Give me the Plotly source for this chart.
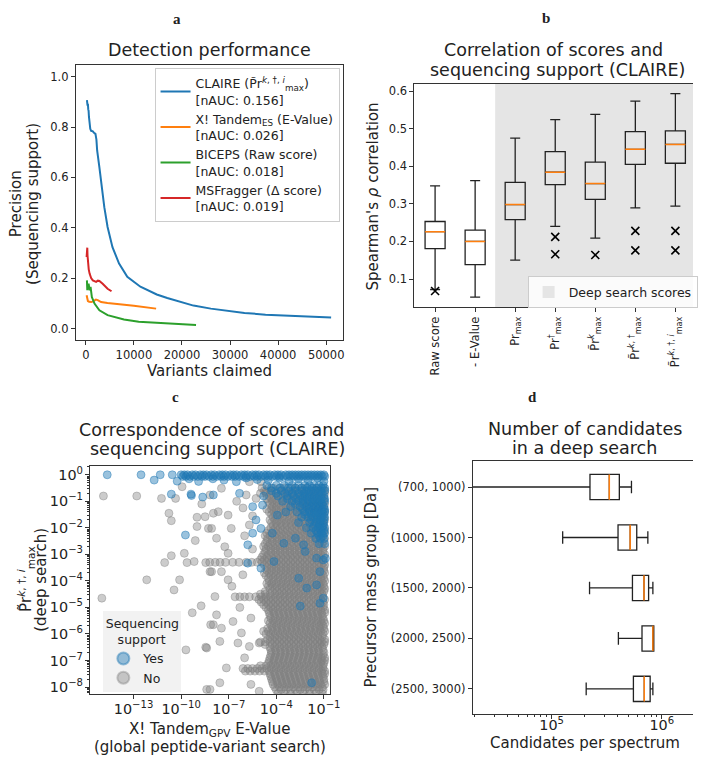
import plotly.graph_objects as go

W, H = 704, 758
FONT = "DejaVu Sans"
INK = "#222222"
SPINE = "#333333"
BLUE, ORANGE, GREEN, RED = "#1f77b4", "#ff7f0e", "#2ca02c", "#d62728"

# ---------------- panel a : detection performance ----------------
claire_x = [225, 300, 360, 430, 500, 570, 650, 700, 780, 850, 920, 1100, 1450, 1700, 2000, 2200, 2350,
            2820, 3300, 3840, 4520, 5540, 6910, 8620, 11350, 14750, 16930, 20200, 22390, 26000, 29200,
            33000, 37380, 44200, 51020]
claire_y = [0.907, 0.900, 0.885, 0.892, 0.870, 0.865, 0.840, 0.820, 0.826, 0.800, 0.793, 0.785, 0.783,
            0.777, 0.773, 0.750, 0.707, 0.640, 0.561, 0.482, 0.403, 0.323, 0.258, 0.205, 0.166, 0.135,
            0.121, 0.102, 0.091, 0.079, 0.070, 0.062, 0.055, 0.049, 0.0437]
xtandem_x = [160, 300, 430, 700, 1120, 1500, 1800, 2100, 2480, 3170, 4500, 5890, 8000, 9980, 12500, 14620]
xtandem_y = [0.132, 0.115, 0.109, 0.106, 0.105, 0.108, 0.112, 0.115, 0.113, 0.105, 0.101, 0.099, 0.094,
             0.090, 0.084, 0.079]
biceps_x = [225, 300, 400, 570, 700, 780, 980, 1100, 1250, 1800, 2820, 4520, 7930, 11000, 14750, 20200, 22920]
biceps_y = [0.191, 0.152, 0.170, 0.178, 0.160, 0.152, 0.165, 0.140, 0.125, 0.099, 0.0725, 0.053, 0.0355,
            0.027, 0.022, 0.017, 0.0143]
msfragger_x = [160, 250, 300, 350, 430, 600, 780, 1100, 1450, 2140, 2500, 2820, 3500, 4520, 5340]
msfragger_y = [0.284, 0.320, 0.321, 0.290, 0.258, 0.235, 0.218, 0.200, 0.191, 0.185, 0.190, 0.189, 0.178,
               0.158, 0.148]
a_names = [
    "CLAIRE (P\u0303r<sup><i>k</i>, \u2020, <i>i</i></sup><sub>max</sub>)<br>[nAUC: 0.156]",
    "X! Tandem<sub>ES</sub> (E-Value)<br>[nAUC: 0.026]",
    "BICEPS (Raw score)<br>[nAUC: 0.018]",
    "MSFragger (\u0394 score)<br>[nAUC: 0.019]",
]

# ---------------- panel b : correlation boxes ----------------
b_labels = ["Raw score", "- E-Value", "Pr<sub>max</sub>", "Pr<sup>\u2020</sup><sub>max</sub>",
            "P\u0303r<sup><i>k</i></sup><sub>max</sub>",
            "P\u0303r<sup><i>k</i>, \u2020</sup><sub>max</sub>",
            "P\u0303r<sup><i>k</i>, \u2020, <i>i</i></sup><sub>max</sub>"]
b_q1 = [0.181, 0.138, 0.258, 0.351, 0.312, 0.405, 0.408]
b_med = [0.226, 0.200, 0.298, 0.384, 0.354, 0.445, 0.458]
b_q3 = [0.253, 0.230, 0.357, 0.439, 0.411, 0.492, 0.494]
b_lo = [0.072, 0.052, 0.150, 0.240, 0.209, 0.289, 0.294]
b_hi = [0.348, 0.362, 0.475, 0.524, 0.538, 0.573, 0.593]
b_flier_cat = [0, 3, 3, 4, 5, 5, 6, 6]
b_flier_val = [0.068, 0.212, 0.166, 0.164, 0.228, 0.176, 0.228, 0.176]
deep_start = 1.5

# ---------------- panel c : scatter (log10 of E-value, log10 of score) ----------------
yes_top_x = [-14.66, -12.53, -11.32, -10.56, -10.0, -9.8, -9.6, -9.3, -9.1, -8.8, -8.6, -8.4, -8.1, -7.9,
             -7.6, -7.4, -7.2, -6.9, -6.7, -6.5, -6.2, -6.0, -5.8, -5.5, -5.3, -5.1, -4.8, -4.6, -4.4,
             -4.1, -3.9, -3.7, -3.4, -3.2, -3.0, -2.8, -2.6, -2.4, -2.2, -2.0, -1.8, -1.6, -1.4, -1.2, -1.0]
yes_pts = [(-11.70, -0.2), (-10.25, -0.24), (-9.5, -0.15), (-8.9, -0.25), (-8.0, -0.15), (-7.3, -0.2),
           (-6.52, -0.26), (-5.9, -0.12), (-5.2, -0.18), (-4.5, -0.2), (-3.8, -0.12), (-3.2, -0.25),
           (-2.6, -0.15), (-2.0, -0.2), (-1.4, -0.12), (-1.0, -0.25),
           (-10.62, -0.73), (-9.38, -0.73), (-9.35, -0.78), (-8.64, -0.84), (-9.73, -2.27), (-7.97, -0.76),
           (-6.32, -0.70), (-5.49, -1.20), (-4.87, -1.14), (-5.28, -1.70), (-5.49, -2.20), (-5.80, -2.64),
           (-4.97, -2.02), (-4.25, -2.20), (-3.94, -1.52), (-3.53, -2.58), (-2.80, -2.39), (-5.80, -3.33),
           (-4.97, -3.52), (-4.15, -3.27), (-2.18, -2.89), (-2.28, -2.64), (-2.59, -3.90), (-2.08, -4.27),
           (-1.46, -4.15), (-1.25, -3.65), (-1.46, -3.14), (-1.04, -3.21), (-2.49, -4.95), (-1.25, -4.84),
           (-1.04, -4.65), (-1.77, -7.84), (-0.9, -3.15)]
yes_rows = [
    (-0.06, [-9.9, -9.7, -9.45, -9.2, -8.95, -8.7, -8.5, -8.25, -8.0, -7.75, -7.5, -7.3, -7.05, -6.8, -6.6,
             -6.35, -6.1, -5.9, -5.65, -5.4, -5.2, -4.95, -4.7, -4.5, -4.25, -4.0, -3.8, -3.55, -3.3, -3.1,
             -2.9, -2.7, -2.5, -2.3, -2.1, -1.9, -1.7, -1.5, -1.3, -1.1, -0.95]),
    (-0.4, [-4.6, -4.0, -3.5, -3.0, -2.6, -2.2, -1.9, -1.6, -1.3, -1.05]),
    (-0.5, [-4.3, -3.75, -3.25, -2.8, -2.4, -2.05, -1.75, -1.45, -1.15, -0.95]),
    (-0.6, [-4.3, -3.7, -3.2, -2.8, -2.4, -2.1, -1.8, -1.5, -1.2, -0.95]),
    (-0.7, [-4.0, -3.45, -3.0, -2.6, -2.25, -1.95, -1.65, -1.35, -1.1]),
    (-0.8, [-4.8, -3.9, -3.3, -2.9, -2.5, -2.2, -1.9, -1.6, -1.3, -1.0]),
    (-0.9, [-3.3, -2.75, -2.35, -2.05, -1.75, -1.45, -1.15, -0.95]),
    (-1.0, [-3.6, -3.0, -2.6, -2.3, -2.0, -1.7, -1.45, -1.2, -0.95]),
    (-1.1, [-2.8, -2.3, -1.95, -1.65, -1.35, -1.1]),
    (-1.2, [-3.1, -2.5, -2.1, -1.8, -1.5, -1.25, -1.0]),
    (-1.3, [-2.35, -1.95, -1.65, -1.35, -1.1, -0.95]),
    (-1.4, [-3.4, -2.7, -2.2, -1.9, -1.6, -1.35, -1.1, -0.95]),
    (-1.5, [-2.2, -1.8, -1.5, -1.25, -1.0]),
    (-1.6, [-2.4, -2.0, -1.7, -1.4, -1.15, -0.95]),
    (-1.7, [-1.8, -1.45, -1.2, -1.0]),
    (-1.8, [-2.6, -1.9, -1.5, -1.25, -1.0]),
    (-1.9, [-1.6, -1.3, -1.05]),
    (-2.0, [-2.1, -1.7, -1.35, -1.1, -0.95]),
    (-2.1, [-1.5, -1.2, -1.0]),
    (-2.2, [-1.8, -1.4, -1.15, -0.95]),
    (-2.3, [-1.3, -1.05]),
    (-2.4, [-1.5, -1.2, -1.0]),
    (-2.6, [-1.3, -0.95]),
]
no_pts = [(-14.9, -0.80), (-12.8, -0.80), (-11.24, -0.89), (-10.35, -0.89), (-9.94, -0.45), (-10.77, -1.45),
          (-10.62, -1.73), (-9.11, -2.48), (-8.49, -1.58), (-8.70, -1.10), (-8.28, -2.02), (-10.62, -3.05),
          (-9.80, -2.96), (-11.04, -3.31), (-9.63, -3.31), (-9.18, -3.27), (-8.45, -3.31), (-8.18, -3.65),
          (-12.17, -3.96), (-10.1, -3.96), (-10.45, -4.34), (-15.0, -4.65), (-8.74, -4.94), (-8.14, -5.65),
          (-8.45, -6.50), (-8.39, -8.09), (-8.18, -0.76), (-7.46, -0.51), (-7.97, -1.45), (-7.66, -1.39),
          (-7.04, -1.52), (-6.84, -2.02), (-7.77, -2.39), (-8.08, -2.02), (-7.25, -2.71), (-7.04, -2.96),
          (-8.08, -3.65), (-7.46, -3.65), (-7.04, -3.96), (-6.11, -3.77), (-7.87, -4.59), (-7.77, -5.28),
          (-6.73, -5.53), (-7.97, -5.65), (-7.46, -5.78), (-6.2, -5.96), (-7.56, -6.28), (-6.42, -6.34),
          (-5.70, -6.47), (-5.08, -6.34), (-8.39, -6.53), (-7.15, -7.28), (-7.56, -7.84), (-8.18, -8.09),
          (-5.08, -8.16), (-5.7, -1.89), (-5.9, -0.76), (-5.28, -0.89), (-4.97, -0.26), (-4.66, -0.64),
          (-5.70, -0.26), (-9.0, -1.6), (-9.0, -1.95), (-6.5, -1.0), (-6.1, -1.25), (-5.5, -1.55),
          (-6.0, -2.3), (-5.5, -2.8), (-6.8, -4.2), (-6.3, -5.0), (-5.6, -5.4), (-6.0, -6.9), (-5.6, -7.9),
          (-9.3, -5.2), (-9.7, -6.6)]
no_rows = [
    (-0.5, [-4.9, -4.5, -4.2, -3.8, -3.5, -3.1, -2.8, -2.4, -2.1, -1.7, -1.4, -1.05]),
    (-0.6, [-4.75, -4.35, -4.05, -3.65, -3.35, -2.95, -2.65, -2.25, -1.95, -1.55, -1.25, -0.95]),
    (-0.7, [-5.0, -4.65, -4.35, -4.0, -3.65, -3.3, -2.95, -2.6, -2.25, -1.9, -1.55, -1.2, -0.95]),
    (-0.8, [-4.45, -4.15, -3.85, -3.55, -3.25, -2.95, -2.65, -2.35, -2.05, -1.75, -1.45, -1.15]),
    (-0.9, [-4.6, -4.3, -4.0, -3.7, -3.4, -3.1, -2.8, -2.5, -2.2, -1.9, -1.6, -1.3, -1.0]),
    (-1.0, [-4.5, -4.25, -3.95, -3.65, -3.35, -3.05, -2.75, -2.45, -2.15, -1.85, -1.55, -1.25, -1.0]),
    (-1.1, [-4.4, -4.15, -3.85, -3.55, -3.25, -2.95, -2.65, -2.35, -2.05, -1.75, -1.45, -1.15, -0.95]),
    (-1.2, [-4.25, -4.0, -3.7, -3.4, -3.1, -2.8, -2.5, -2.2, -1.9, -1.6, -1.3, -1.05]),
    (-1.3, [-4.6, -4.3, -4.0, -3.7, -3.4, -3.1, -2.8, -2.5, -2.2, -1.9, -1.6, -1.3, -1.0]),
    (-1.4, [-4.45, -4.15, -3.85, -3.55, -3.25, -2.95, -2.65, -2.35, -2.05, -1.75, -1.45, -1.15, -0.95]),
    (-1.5, [-4.3, -4.05, -3.75, -3.45, -3.15, -2.85, -2.55, -2.25, -1.95, -1.65, -1.35, -1.1]),
    (-1.6, [-4.2, -3.9, -3.6, -3.3, -3.0, -2.7, -2.4, -2.1, -1.8, -1.5, -1.2, -1.0]),
    (-1.7, [-4.4, -4.1, -3.8, -3.5, -3.2, -2.9, -2.6, -2.3, -2.0, -1.7, -1.4, -1.15, -0.95]),
    (-1.8, [-4.3, -4.0, -3.7, -3.4, -3.1, -2.8, -2.5, -2.2, -1.9, -1.6, -1.3, -1.05]),
    (-1.9, [-4.2, -3.95, -3.65, -3.35, -3.05, -2.75, -2.45, -2.15, -1.85, -1.55, -1.25, -1.0]),
    (-2.0, [-4.35, -4.05, -3.75, -3.45, -3.15, -2.85, -2.55, -2.25, -1.95, -1.65, -1.35, -1.1]),
    (-2.1, [-4.5, -4.2, -3.9, -3.6, -3.3, -3.0, -2.7, -2.4, -2.1, -1.8, -1.5, -1.2, -0.95]),
    (-2.2, [-4.6, -4.3, -4.0, -3.7, -3.4, -3.1, -2.8, -2.5, -2.2, -1.9, -1.6, -1.3, -1.0]),
    (-2.3, [-4.7, -4.4, -4.1, -3.8, -3.5, -3.2, -2.9, -2.6, -2.3, -2.0, -1.7, -1.4, -1.1]),
    (-2.4, [-4.55, -4.25, -3.95, -3.65, -3.35, -3.05, -2.75, -2.45, -2.15, -1.85, -1.55, -1.25, -0.95]),
    (-2.5, [-4.6, -4.25, -3.95, -3.65, -3.35, -3.05, -2.75, -2.45, -2.15, -1.85, -1.55, -1.25, -1.0]),
    (-2.6, [-4.7, -4.4, -4.1, -3.8, -3.5, -3.2, -2.9, -2.6, -2.3, -2.0, -1.7, -1.4, -1.1]),
    (-2.7, [-4.8, -4.5, -4.2, -3.9, -3.6, -3.3, -3.0, -2.7, -2.4, -2.1, -1.8, -1.5, -1.2, -0.95]),
    (-2.8, [-4.65, -4.35, -4.05, -3.75, -3.45, -3.15, -2.85, -2.55, -2.25, -1.95, -1.65, -1.35, -1.05]),
    (-2.9, [-4.7, -4.35, -4.05, -3.75, -3.45, -3.15, -2.85, -2.55, -2.25, -1.95, -1.65, -1.35, -1.05]),
    (-3.0, [-4.8, -4.5, -4.2, -3.9, -3.6, -3.3, -3.0, -2.7, -2.4, -2.1, -1.8, -1.5, -1.2, -0.95]),
    (-3.1, [-4.9, -4.6, -4.3, -4.0, -3.7, -3.4, -3.1, -2.8, -2.5, -2.2, -1.9, -1.6, -1.3, -1.0]),
    (-3.2, [-5.0, -4.75, -4.45, -4.15, -3.85, -3.55, -3.25, -2.95, -2.65, -2.35, -2.05, -1.75, -1.45, -1.15]),
    (-3.3, [-8.2, -7.85, -7.55, -7.2, -6.75, -6.35, -5.9, -5.55, -5.2, -4.9, -4.6, -4.3, -4.0, -3.7, -3.4,
            -3.1, -2.8, -2.5, -2.2, -1.9, -1.6, -1.3, -1.0]),
    (-3.4, [-4.75, -4.45, -4.15, -3.85, -3.55, -3.25, -2.95, -2.65, -2.35, -2.05, -1.75, -1.45, -1.15, -0.95]),
    (-3.5, [-4.6, -4.3, -4.0, -3.7, -3.4, -3.1, -2.8, -2.5, -2.2, -1.9, -1.6, -1.3, -1.0]),
    (-3.6, [-4.6, -4.3, -4.0, -3.7, -3.4, -3.1, -2.8, -2.5, -2.2, -1.9, -1.6, -1.3, -1.0]),
    (-3.7, [-4.75, -4.45, -4.15, -3.85, -3.55, -3.25, -2.95, -2.65, -2.35, -2.05, -1.75, -1.45, -1.15, -0.95]),
    (-3.8, [-4.65, -4.35, -4.05, -3.75, -3.45, -3.15, -2.85, -2.55, -2.25, -1.95, -1.65, -1.35, -1.05]),
    (-3.9, [-4.5, -4.2, -3.9, -3.6, -3.3, -3.0, -2.7, -2.4, -2.1, -1.8, -1.5, -1.2, -1.0]),
    (-4.0, [-4.45, -4.15, -3.85, -3.55, -3.25, -2.95, -2.65, -2.35, -2.05, -1.75, -1.45, -1.15, -0.95]),
    (-4.1, [-4.6, -4.3, -4.0, -3.7, -3.4, -3.1, -2.8, -2.5, -2.2, -1.9, -1.6, -1.3, -1.05]),
    (-4.2, [-4.5, -4.25, -3.95, -3.65, -3.35, -3.05, -2.75, -2.45, -2.15, -1.85, -1.55, -1.25, -1.0]),
    (-4.3, [-4.4, -4.1, -3.8, -3.5, -3.2, -2.9, -2.6, -2.3, -2.0, -1.7, -1.4, -1.15, -0.95]),
    (-4.4, [-4.7, -4.25, -3.95, -3.65, -3.35, -3.05, -2.75, -2.45, -2.15, -1.85, -1.55, -1.25, -1.0]),
    (-4.5, [-5.0, -4.7, -4.4, -4.1, -3.8, -3.5, -3.2, -2.9, -2.6, -2.3, -2.0, -1.7, -1.4, -1.1]),
    (-4.6, [-6.6, -6.3, -6.0, -5.7, -5.3, -4.95, -4.65, -4.35, -4.05, -3.75, -3.45, -3.15, -2.85, -2.55,
            -2.25, -1.95, -1.65, -1.35, -1.05]),
    (-4.7, [-5.1, -4.8, -4.5, -4.2, -3.9, -3.6, -3.3, -3.0, -2.7, -2.4, -2.1, -1.8, -1.5, -1.2, -0.95]),
    (-4.8, [-4.95, -4.65, -4.35, -4.05, -3.75, -3.45, -3.15, -2.85, -2.55, -2.25, -1.95, -1.65, -1.35, -1.05]),
    (-4.9, [-4.8, -4.5, -4.2, -3.9, -3.6, -3.3, -3.0, -2.7, -2.4, -2.1, -1.8, -1.5, -1.2, -1.0]),
    (-5.0, [-4.65, -4.35, -4.05, -3.75, -3.45, -3.15, -2.85, -2.55, -2.25, -1.95, -1.65, -1.35, -1.05]),
    (-5.1, [-4.5, -4.2, -3.9, -3.6, -3.3, -3.0, -2.7, -2.4, -2.1, -1.8, -1.5, -1.2, -0.95]),
    (-5.2, [-4.45, -4.15, -3.85, -3.55, -3.25, -2.95, -2.65, -2.35, -2.05, -1.75, -1.45, -1.15, -0.95]),
    (-5.3, [-4.4, -4.1, -3.8, -3.5, -3.2, -2.9, -2.6, -2.3, -2.0, -1.7, -1.4, -1.1]),
    (-5.4, [-4.35, -4.05, -3.75, -3.45, -3.15, -2.85, -2.55, -2.25, -1.95, -1.65, -1.35, -1.05]),
    (-5.5, [-4.5, -4.2, -3.9, -3.6, -3.3, -3.0, -2.7, -2.4, -2.1, -1.8, -1.5, -1.2, -1.0]),
    (-5.6, [-4.4, -4.15, -3.85, -3.55, -3.25, -2.95, -2.65, -2.35, -2.05, -1.75, -1.45, -1.15, -0.95]),
    (-5.7, [-4.3, -4.0, -3.7, -3.4, -3.1, -2.8, -2.5, -2.2, -1.9, -1.6, -1.3, -1.05]),
    (-5.8, [-4.55, -4.25, -3.95, -3.65, -3.35, -3.05, -2.75, -2.45, -2.15, -1.85, -1.55, -1.25, -1.0]),
    (-5.9, [-4.8, -4.5, -4.2, -3.9, -3.6, -3.3, -3.0, -2.7, -2.4, -2.1, -1.8, -1.5, -1.2, -0.95]),
    (-6.0, [-4.65, -4.35, -4.05, -3.75, -3.45, -3.15, -2.85, -2.55, -2.25, -1.95, -1.65, -1.35, -1.05]),
    (-6.1, [-4.4, -4.1, -3.8, -3.5, -3.2, -2.9, -2.6, -2.3, -2.0, -1.7, -1.4, -1.1]),
    (-6.2, [-4.55, -4.25, -3.95, -3.65, -3.35, -3.05, -2.75, -2.45, -2.15, -1.85, -1.55, -1.25, -0.95]),
    (-6.3, [-5.0, -4.7, -4.4, -4.1, -3.8, -3.5, -3.2, -2.9, -2.6, -2.3, -2.0, -1.7, -1.4, -1.15, -0.95]),
    (-6.4, [-4.7, -4.25, -3.95, -3.65, -3.35, -3.05, -2.75, -2.45, -2.15, -1.85, -1.55, -1.25, -1.0]),
    (-6.5, [-4.4, -4.1, -3.8, -3.5, -3.2, -2.9, -2.6, -2.3, -2.0, -1.7, -1.4, -1.1]),
    (-6.6, [-4.35, -4.05, -3.75, -3.45, -3.15, -2.85, -2.55, -2.25, -1.95, -1.65, -1.35, -1.05]),
    (-6.7, [-4.3, -4.0, -3.7, -3.4, -3.1, -2.8, -2.5, -2.2, -1.9, -1.6, -1.3, -1.0]),
    (-6.8, [-4.35, -4.05, -3.75, -3.45, -3.15, -2.85, -2.55, -2.25, -1.95, -1.65, -1.35, -1.05]),
    (-6.9, [-4.4, -4.1, -3.8, -3.5, -3.2, -2.9, -2.6, -2.3, -2.0, -1.7, -1.4, -1.15, -0.95]),
    (-7.0, [-4.45, -4.15, -3.85, -3.55, -3.25, -2.95, -2.65, -2.35, -2.05, -1.75, -1.45, -1.15, -0.95]),
    (-7.1, [-4.5, -4.2, -3.9, -3.6, -3.3, -3.0, -2.7, -2.4, -2.1, -1.8, -1.5, -1.2, -1.0]),
    (-7.2, [-5.0, -4.65, -4.35, -4.05, -3.75, -3.45, -3.15, -2.85, -2.55, -2.25, -1.95, -1.65, -1.35, -1.05]),
    (-7.3, [-6.1, -5.8, -5.5, -5.2, -4.9, -4.6, -4.3, -4.0, -3.7, -3.4, -3.1, -2.8, -2.5, -2.2, -1.9, -1.6,
            -1.3, -1.05]),
    (-7.4, [-5.95, -5.65, -5.35, -5.05, -4.75, -4.45, -4.15, -3.85, -3.55, -3.25, -2.95, -2.65, -2.35, -2.05,
            -1.75, -1.45, -1.15, -0.95]),
    (-7.5, [-4.4, -4.1, -3.8, -3.5, -3.2, -2.9, -2.6, -2.3, -2.0, -1.7, -1.4, -1.1, -0.95]),
    (-7.6, [-4.35, -4.05, -3.75, -3.45, -3.15, -2.85, -2.55, -2.25, -1.95, -1.65, -1.35, -1.05]),
    (-7.7, [-4.3, -4.0, -3.7, -3.4, -3.1, -2.8, -2.5, -2.2, -1.9, -1.6, -1.3, -1.0]),
    (-7.8, [-4.25, -3.95, -3.65, -3.35, -3.05, -2.75, -2.45, -2.15, -1.85, -1.55, -1.25, -1.0]),
    (-7.9, [-4.2, -3.9, -3.6, -3.3, -3.0, -2.7, -2.4, -2.1, -1.8, -1.5, -1.2, -0.95]),
    (-8.0, [-4.1, -3.8, -3.5, -3.2, -2.9, -2.6, -2.3, -2.0, -1.7, -1.4, -1.1]),
    (-8.1, [-4.0, -3.7, -3.4, -3.1, -2.8, -2.5, -2.2, -1.9, -1.6, -1.3, -1.05]),
    (-8.25, [-3.9, -3.5, -3.1, -2.7, -2.3, -1.9, -1.5, -1.1]),
]

# ---------------- panel d : candidates per spectrum ----------------
d_labels = ["(700, 1000)", "(1000, 1500)", "(1500, 2000)", "(2000, 2500)", "(2500, 3000)"]
d_lo = [1.0e4, 1.26e5, 2.21e5, 4.04e5, 2.06e5]
d_q1 = [2.23e5, 4.01e5, 5.42e5, 6.62e5, 5.53e5]
d_med = [3.34e5, 5.17e5, 6.90e5, 8.31e5, 6.94e5]
d_q3 = [4.12e5, 5.93e5, 7.60e5, 8.47e5, 7.85e5]
d_hi = [5.31e5, 7.48e5, 8.31e5, 8.47e5, 8.31e5]


def dx(p0, p1):
    return [p0 / W, p1 / W]


def dy(top, bot):
    return [1 - bot / H, 1 - top / H]


fig = go.Figure()

# ---- a
for xs, ys, col, nm in [(claire_x, claire_y, BLUE, a_names[0]), (xtandem_x, xtandem_y, ORANGE, a_names[1]),
                        (biceps_x, biceps_y, GREEN, a_names[2]), (msfragger_x, msfragger_y, RED, a_names[3])]:
    fig.add_trace(go.Scatter(x=xs, y=ys, mode="lines", line=dict(color=col, width=2), name=nm,
                             xaxis="x", yaxis="y", legend="legend"))

# ---- b
pos_b = list(range(len(b_labels)))
fig.add_trace(go.Box(x=pos_b, q1=b_q1, median=b_med, q3=b_q3, lowerfence=b_lo, upperfence=b_hi,
                     width=0.5, whiskerwidth=0.5, boxpoints=False, fillcolor="rgba(0,0,0,0)",
                     line=dict(color=INK, width=1.3), showlegend=False, xaxis="x2", yaxis="y2",
                     hoverinfo="skip"))
mx, my = [], []
for i, m in zip(pos_b, b_med):
    mx += [i - 0.25, i + 0.25, None]
    my += [m, m, None]
fig.add_trace(go.Scatter(x=mx, y=my, mode="lines", line=dict(color=ORANGE, width=1.5), showlegend=False,
                         xaxis="x2", yaxis="y2"))
fig.add_trace(go.Scatter(x=b_flier_cat, y=b_flier_val, mode="markers",
                         marker=dict(symbol="x-thin", size=8, line=dict(color="black", width=1.6)),
                         showlegend=False, xaxis="x2", yaxis="y2"))

# ---- c
no_x = [10 ** p[0] for p in no_pts]
no_y = [10 ** p[1] for p in no_pts]
for ey, xs in no_rows:
    no_x += [10 ** v for v in xs]
    no_y += [10 ** ey] * len(xs)
yes_x = [10 ** v for v in yes_top_x]
yes_y = [1.0] * len(yes_top_x)
yes_x += [10 ** p[0] for p in yes_pts]
yes_y += [10 ** p[1] for p in yes_pts]
for ey, xs in yes_rows:
    yes_x += [10 ** v for v in xs]
    yes_y += [10 ** ey] * len(xs)

GREY_A = "rgba(128,128,128,0.40)"
BLUE_A = "rgba(31,119,180,0.45)"
fig.add_trace(go.Scatter(x=no_x, y=no_y, mode="markers", name="No", legendrank=2,
                         marker=dict(size=8, color=GREY_A, line=dict(color=GREY_A, width=1)),
                         xaxis="x3", yaxis="y3", legend="legend2"))
fig.add_trace(go.Scatter(x=yes_x, y=yes_y, mode="markers", name="Yes", legendrank=1,
                         marker=dict(size=8, color=BLUE_A, line=dict(color=BLUE_A, width=1)),
                         xaxis="x3", yaxis="y3", legend="legend2"))

# ---- d
pos_d = list(range(len(d_labels)))
fig.add_trace(go.Box(y=pos_d, q1=d_q1, median=d_med, q3=d_q3, lowerfence=d_lo, upperfence=d_hi,
                     orientation="h", width=0.5, whiskerwidth=0.5, boxpoints=False,
                     fillcolor="rgba(0,0,0,0)", line=dict(color=INK, width=1.3), showlegend=False,
                     xaxis="x4", yaxis="y4", hoverinfo="skip"))
dmx, dmy = [], []
for i, m in zip(pos_d, d_med):
    dmx += [m, m, None]
    dmy += [i - 0.25, i + 0.25, None]
fig.add_trace(go.Scatter(x=dmx, y=dmy, mode="lines", line=dict(color=ORANGE, width=1.5), showlegend=False,
                         xaxis="x4", yaxis="y4"))

ax = dict(showline=True, linecolor=SPINE, linewidth=1, ticks="outside", ticklen=4, tickwidth=1,
          tickcolor=SPINE, tickfont=dict(size=11.5, color=INK), showgrid=False, zeroline=False)

fig.update_layout(
    width=W, height=H, margin=dict(l=0, r=0, t=0, b=0), autosize=False,
    paper_bgcolor="white", plot_bgcolor="white",
    font=dict(family=FONT, color=INK, size=12),
    xaxis=dict(ax, domain=dx(77, 348), range=[-2090, 53400], tickvals=[0, 10000, 20000, 30000, 40000, 50000],
               tickformat="d", mirror=True, anchor="y"),
    yaxis=dict(ax, domain=dy(64, 340), range=[-0.046, 1.047], tickvals=[0, 0.2, 0.4, 0.6, 0.8, 1.0],
               tickformat=".1f", mirror=True, anchor="x"),
    xaxis2=dict(ax, domain=dx(421, 704), range=[-0.516, 6.44], tickvals=pos_b, ticktext=b_labels,
                tickangle=-90, mirror=True, anchor="y2"),
    yaxis2=dict(ax, domain=dy(83, 307), range=[0.025, 0.6194], dtick=0.1, tick0=0, tickformat=".1f",
                mirror=False, anchor="x2"),
    xaxis3=dict(ax, type="log", domain=dx(91.7, 335), range=[-15.73, -0.63], tick0=-1, dtick=3,
                exponentformat="power", mirror=True, anchor="y3", ticklabelstandoff=-2),
    yaxis3=dict(ax, type="log", domain=dy(466, 695.3), range=[-8.28, 0.34], tick0=0, dtick=1,
                exponentformat="power", labelalias={"1": "10<sup>0</sup>"}, mirror=True, anchor="x3",
                minor=dict(ticks="outside", ticklen=2, tickcolor=SPINE, dtick="D1")),
    xaxis4=dict(ax, type="log", domain=dx(480.3, 704), range=[4.284, 6.284], dtick=1,
                exponentformat="power", mirror=True, anchor="y4", ticklabelstandoff=-6,
                minor=dict(ticks="outside", ticklen=2, tickcolor=SPINE, dtick="D1")),
    yaxis4=dict(ax, domain=dy(461, 715), range=[4.5, -0.52], tickvals=pos_d, ticktext=d_labels,
                mirror=False, anchor="x4"),
    legend=dict(x=157 / W, y=1 - 67 / H, xanchor="left", yanchor="top", bgcolor="white",
                bordercolor="#cccccc", borderwidth=1, font=dict(size=12.5), itemwidth=30,
                tracegroupgap=0),
    legend2=dict(x=105 / W, y=1 - 612 / H, xanchor="left", yanchor="top", bgcolor="#f2f2f2",
                 borderwidth=0, font=dict(size=12.5), itemsizing="constant",
                 title=dict(text="Sequencing<br>&nbsp;&nbsp;&nbsp;support", side="top center",
                            font=dict(size=12.5))),
    legend3=dict(x=536 / W, y=1 - 276 / H, xanchor="left", yanchor="top",
                 bgcolor="rgba(255,255,255,0.85)", bordercolor="#cccccc", borderwidth=1,
                 font=dict(size=12.5)),
    shapes=[dict(type="rect", xref="x2", yref="y2 domain", x0=deep_start, x1=7, y0=0, y1=1,
                 fillcolor="#e5e5e5", line=dict(width=0), layer="below", showlegend=True,
                 legend="legend3", name="Deep search scores")],
)


def ann(text, px, py, size, angle=0, family=FONT):
    fig.add_annotation(text=text, x=px / W, y=1 - py / H, xref="paper", yref="paper", showarrow=False,
                       xanchor="center", yanchor="middle", textangle=angle,
                       font=dict(size=size, family=family, color=INK))


SER = "Liberation Serif"
ann("<b>a</b>", 180, 18, 15, family=SER)
ann("<b>b</b>", 555, 17, 15, family=SER)
ann("<b>c</b>", 178, 397, 15, family=SER)
ann("<b>d</b>", 541, 397, 15, family=SER)

ann("Detection performance", 213, 49, 17.5)
ann("Correlation of scores and", 562, 49.5, 17.5)
ann("sequencing support (CLAIRE)", 566, 69, 17.5)
ann("Correspondence of scores and", 215, 430, 17.5)
ann("sequencing support (CLAIRE)", 221, 449.5, 17.5)
ann("Number of candidates", 594, 429, 17.5)
ann("in a deep search", 594, 448.5, 17.5)

ann("Variants claimed", 213, 371, 15)
ann("Precision", 17, 203, 15, angle=-90)
ann("(Sequencing support)", 34, 203, 15, angle=-90)
ann("Spearman's <i>\u03c1</i> correlation", 379, 196, 15, angle=-90)
ann("X! Tandem<sub>GPV</sub> E-Value", 213, 730, 15)
ann("(global peptide-variant search)", 213, 748, 15)
ann("P\u0303r<sup><i>k</i>, \u2020, <i>i</i></sup><sub>max</sub>", 26, 580, 15, angle=-90)
ann("(deep search)", 42, 580, 15, angle=-90)
ann("Precursor mass group [Da]", 377, 588, 15, angle=-90)
ann("Candidates per spectrum", 594, 744, 15)

fig.write_html("out.html", config={"displayModeBar": False},
               post_script="document.body.style.margin='0';document.body.style.padding='0';")
